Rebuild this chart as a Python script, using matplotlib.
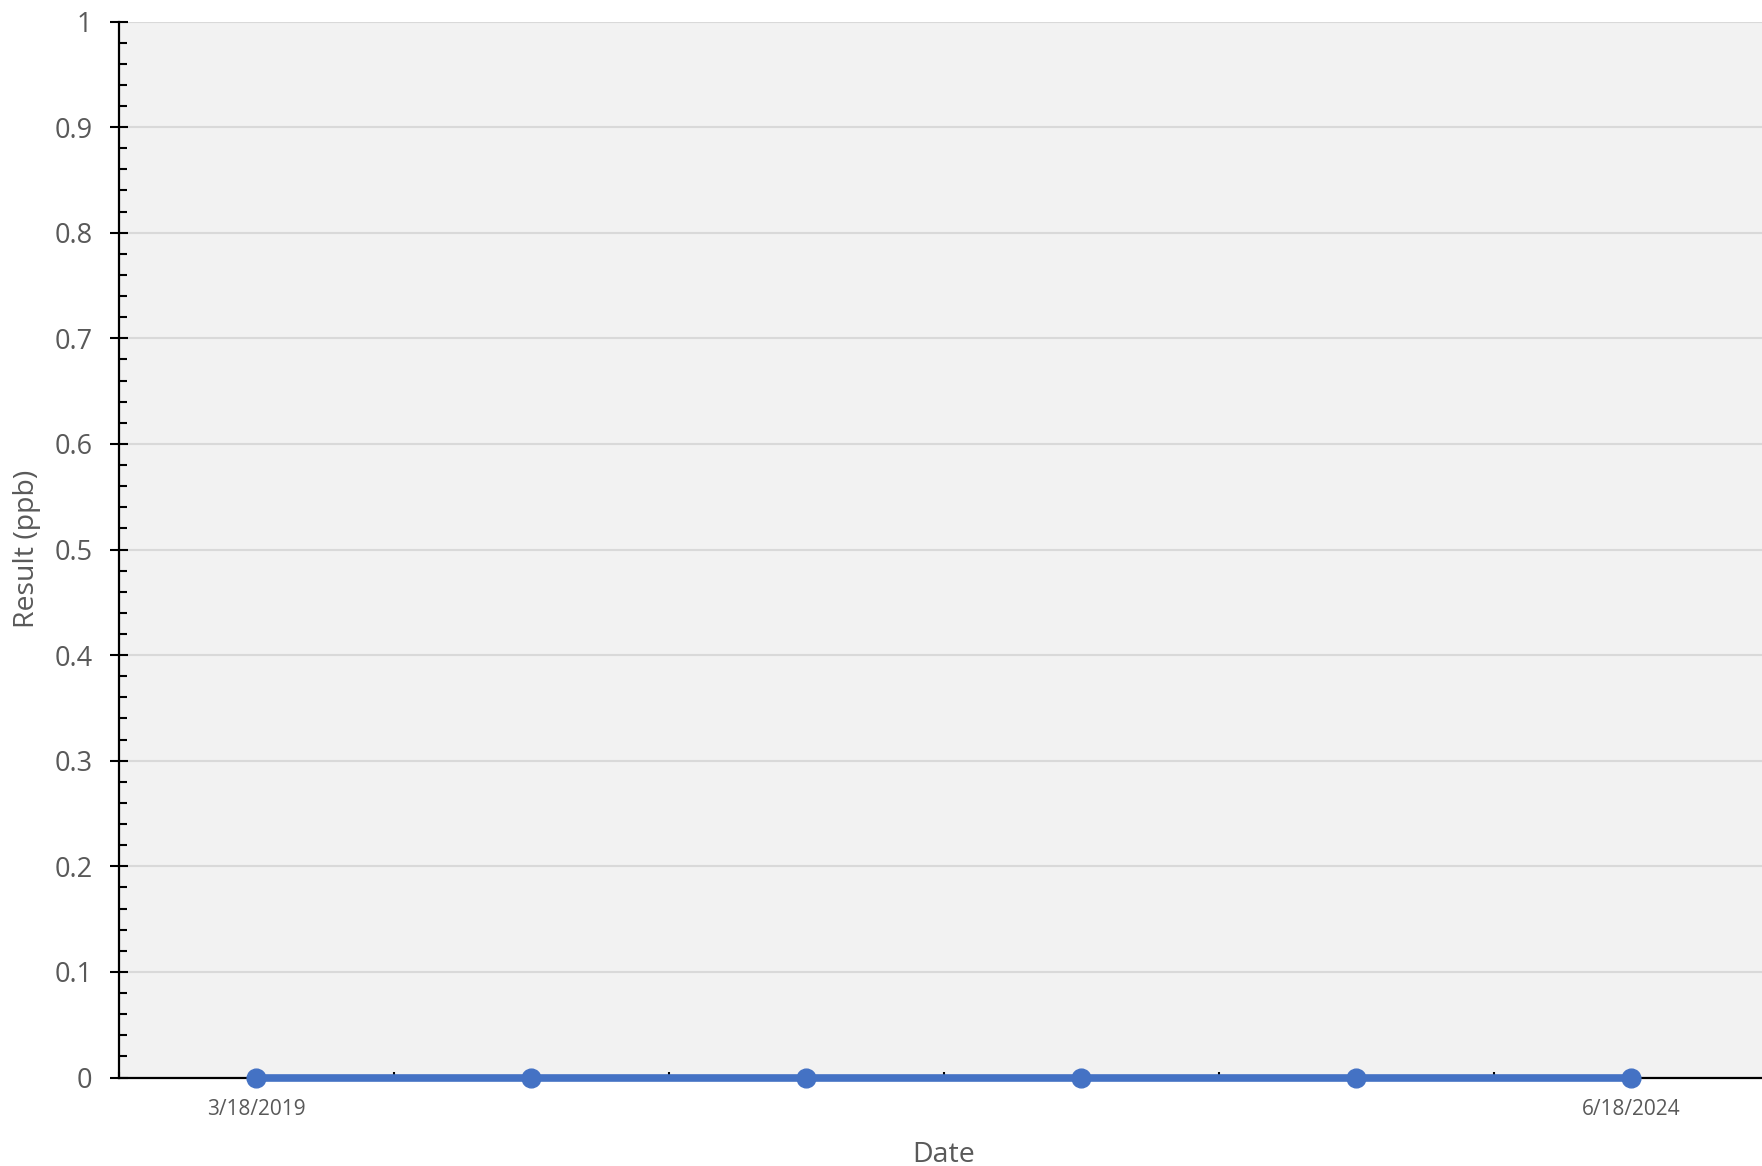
import matplotlib
matplotlib.use("Agg")
import matplotlib.pyplot as plt
from matplotlib.ticker import MultipleLocator, FixedLocator

plt.rcParams['font.family'] = ['Open Sans', 'DejaVu Sans']

# Data
date_labels = ["3/18/2019", "", "", "", "", "6/18/2024"]
results = [0, 0, 0, 0, 0, 0]
y_ticks = [0, 0.1, 0.2, 0.3, 0.4, 0.5, 0.6, 0.7, 0.8, 0.9, 1]
y_tick_labels = ["0", "0.1", "0.2", "0.3", "0.4", "0.5", "0.6", "0.7", "0.8", "0.9", "1"]

W, H = 1762, 1166
fig = plt.figure(figsize=(W / 100, H / 100), dpi=100)
left = 118.5 / W
right = 1768.5 / W
top = 1 - 21.5 / H
bottom = 1 - 1077.5 / H
ax = fig.add_axes([left, bottom, right - left, top - bottom])
ax.set_facecolor('#F2F2F2')

x = list(range(len(results)))
ax.plot(x, results, color='#4472C4', lw=5.5, marker='o', ms=13.5,
        solid_capstyle='butt', clip_on=False, zorder=5)

ax.set_xlim(-0.5, len(results) - 0.5)
ax.set_ylim(0, 1)

# grid
ax.set_yticks(y_ticks)
ax.set_yticklabels(y_tick_labels)
ax.yaxis.set_minor_locator(MultipleLocator(0.02))
ax.yaxis.grid(True, which='major', color='#D9D9D9', lw=1.5)
ax.set_axisbelow(True)

# x ticks: labels at categories, tick marks between categories
ax.set_xticks(x)
ax.set_xticklabels(date_labels)
ax.xaxis.set_minor_locator(FixedLocator([i + 0.5 for i in range(-1, len(results))]))
ax.tick_params(axis='x', which='major', length=0, pad=15.5, labelsize=15, labelcolor='#595959')
ax.tick_params(axis='x', which='minor', direction='in', length=4.5, width=1.5, color='black')

ax.tick_params(axis='y', which='major', direction='inout', length=13.5, width=1.5,
               color='black', labelsize=19.5, labelcolor='#595959', pad=12)
ax.tick_params(axis='y', which='minor', direction='in', length=5.5, width=1.5, color='black')

for s in ['top', 'right']:
    ax.spines[s].set_visible(False)
for s in ['left', 'bottom']:
    ax.spines[s].set_color('black')
    ax.spines[s].set_linewidth(1.6)

fig.text(944 / W, 1 - 1154.5 / H, 'Date', ha='center', va='center',
         fontsize=20.5, color='#595959')
fig.text(27 / W, 1 - 549 / H, 'Result (ppb)', ha='center', va='center',
         rotation=90, fontsize=20.5, color='#595959')

fig.savefig('out.png', dpi=100, facecolor='white')
